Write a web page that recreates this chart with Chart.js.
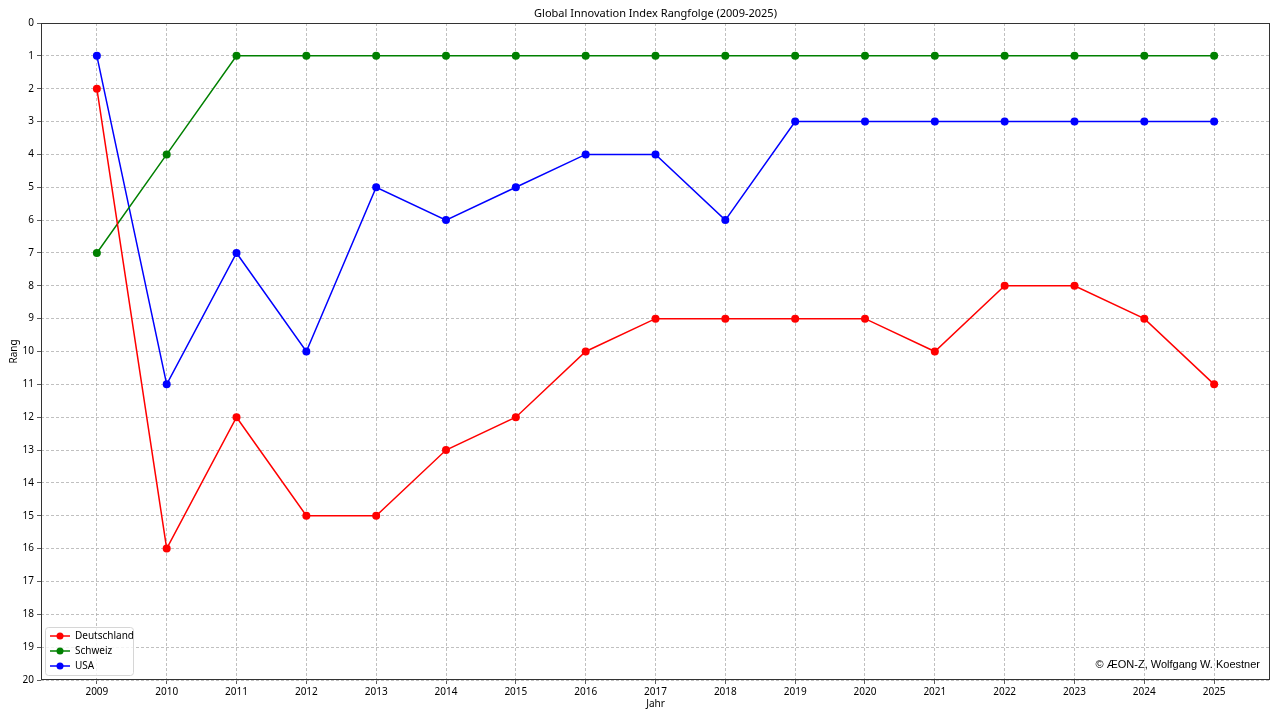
<!DOCTYPE html>
<html>
<head>
<meta charset="utf-8">
<script src="https://cdn.jsdelivr.net/npm/chart.js@4.4.1/dist/chart.umd.min.js"></script>
<style>
  html, body { margin: 0; padding: 0; background: #fff; }
  #wrap { width: 1280px; height: 720px; }
</style>
</head>
<body>
<div id="wrap"><canvas id="rankChart" width="1280" height="720"></canvas></div>
<script>
var chartTitle = 'Global Innovation Index Rangfolge (2009-2025)';
var years = [2009, 2010, 2011, 2012, 2013, 2014, 2015, 2016, 2017, 2018, 2019, 2020, 2021, 2022, 2023, 2024, 2025];
var deutschland = [2, 16, 12, 15, 15, 13, 12, 10, 9, 9, 9, 9, 10, 8, 8, 9, 11];
var schweiz = [7, 4, 1, 1, 1, 1, 1, 1, 1, 1, 1, 1, 1, 1, 1, 1, 1];
var usa = [1, 11, 7, 10, 5, 6, 5, 4, 4, 6, 3, 3, 3, 3, 3, 3, 3];
var rankTicks = [0, 1, 2, 3, 4, 5, 6, 7, 8, 9, 10, 11, 12, 13, 14, 15, 16, 17, 18, 19, 20];

var FONT = '"Noto Sans", "DejaVu Sans", sans-serif';

function points(values) {
    return years.map(function (y, i) { return { x: y, y: values[i] }; });
}

function series(label, values, color) {
    return {
        label: label,
        data: points(values),
        borderColor: color,
        backgroundColor: color,
        borderWidth: 1.5,
        pointRadius: 4,
        pointHoverRadius: 4,
        pointBorderWidth: 0,
        tension: 0
    };
}

// frame, title, legend box and watermark, matplotlib style
var decorations = {
    id: 'decorations',
    afterDraw: function (chart) {
        var ctx = chart.ctx;
        var a = chart.chartArea;
        ctx.save();
        ctx.strokeStyle = '#333';
        ctx.lineWidth = 1;
        ctx.setLineDash([]);
        ctx.strokeRect(a.left + 0.5, a.top + 0.5, a.right - a.left - 1, a.bottom - a.top - 1);

        // title over the plot area
        ctx.font = '11px ' + FONT;
        ctx.fillStyle = '#000';
        ctx.textAlign = 'center';
        ctx.textBaseline = 'middle';
        ctx.fillText(chartTitle, (a.left + a.right) / 2, 14);

        // legend
        var lx = a.left + 4, ly = a.bottom - 53, lw = 88, lh = 48;
        ctx.fillStyle = 'rgba(255,255,255,0.8)';
        ctx.strokeStyle = '#d6d6d6';
        ctx.lineWidth = 1;
        ctx.beginPath();
        ctx.roundRect(lx + 0.5, ly + 0.5, lw, lh, 3);
        ctx.fill();
        ctx.stroke();
        ctx.font = '10px ' + FONT;
        ctx.textAlign = 'left';
        ctx.textBaseline = 'middle';
        chart.data.datasets.forEach(function (ds, i) {
            var yy = ly + 9 + i * 15;
            ctx.strokeStyle = ds.borderColor;
            ctx.lineWidth = 1.5;
            ctx.beginPath();
            ctx.moveTo(lx + 5, yy);
            ctx.lineTo(lx + 25, yy);
            ctx.stroke();
            ctx.fillStyle = ds.borderColor;
            ctx.beginPath();
            ctx.arc(lx + 15, yy, 3.5, 0, Math.PI * 2);
            ctx.fill();
            ctx.fillStyle = '#000';
            ctx.fillText(ds.label, lx + 30, yy);
        });

        // watermark
        ctx.font = '11px "Liberation Sans", Arial, sans-serif';
        ctx.fillStyle = '#000';
        ctx.textAlign = 'right';
        ctx.textBaseline = 'alphabetic';
        ctx.fillText('\u00A9 \u00C6ON-Z, Wolfgang W. Koestner', a.right - 10, a.bottom - 12);
        ctx.restore();
    }
};

var gridStyle = {
    color: '#b0b0b0',
    tickBorderDash: [],
    tickColor: '#333',
    tickLength: 4,
    lineWidth: 0.8
};

var ctx = document.getElementById('rankChart').getContext('2d');
var rankChart = new Chart(ctx, {
    type: 'line',
    data: {
        datasets: [
            series('Deutschland', deutschland, '#ff0000'),
            series('Schweiz', schweiz, '#008000'),
            series('USA', usa, '#0000ff')
        ]
    },
    options: {
        responsive: false,
        animation: false,
        layout: { padding: { top: 23, right: 10, bottom: 10, left: 8 } },
        plugins: {
            legend: { display: false },
            tooltip: { enabled: false },
            title: { display: false }
        },
        scales: {
            x: {
                type: 'linear',
                min: 2008.2,
                max: 2025.8,
                afterBuildTicks: function (axis) {
                    axis.ticks = years.map(function (y) { return { value: y }; });
                },
                afterFit: function (axis) { axis.height = 30; },
                ticks: {
                    color: '#000',
                    font: { family: FONT, size: 10 },
                    padding: 2,
                    maxRotation: 0,
                    callback: function (v) { return String(v); }
                },
                grid: gridStyle,
                border: { display: false, dash: [3, 2] },
                title: {
                    display: true,
                    text: 'Jahr',
                    color: '#000',
                    font: { family: FONT, size: 10 },
                    padding: { top: 0, bottom: 0 }
                }
            },
            y: {
                reverse: true,
                min: 0,
                max: 20,
                afterBuildTicks: function (axis) {
                    axis.ticks = rankTicks.map(function (v) { return { value: v }; });
                },
                afterFit: function (axis) { axis.width = 33; },
                ticks: {
                    color: '#000',
                    font: { family: FONT, size: 10 },
                    padding: 3
                },
                grid: gridStyle,
                border: { display: false, dash: [3, 2] },
                title: {
                    display: true,
                    text: 'Rang',
                    color: '#000',
                    font: { family: FONT, size: 10 },
                    padding: { top: 0, bottom: 2 }
                }
            }
        }
    },
    plugins: [decorations]
});
</script>
</body>
</html>
